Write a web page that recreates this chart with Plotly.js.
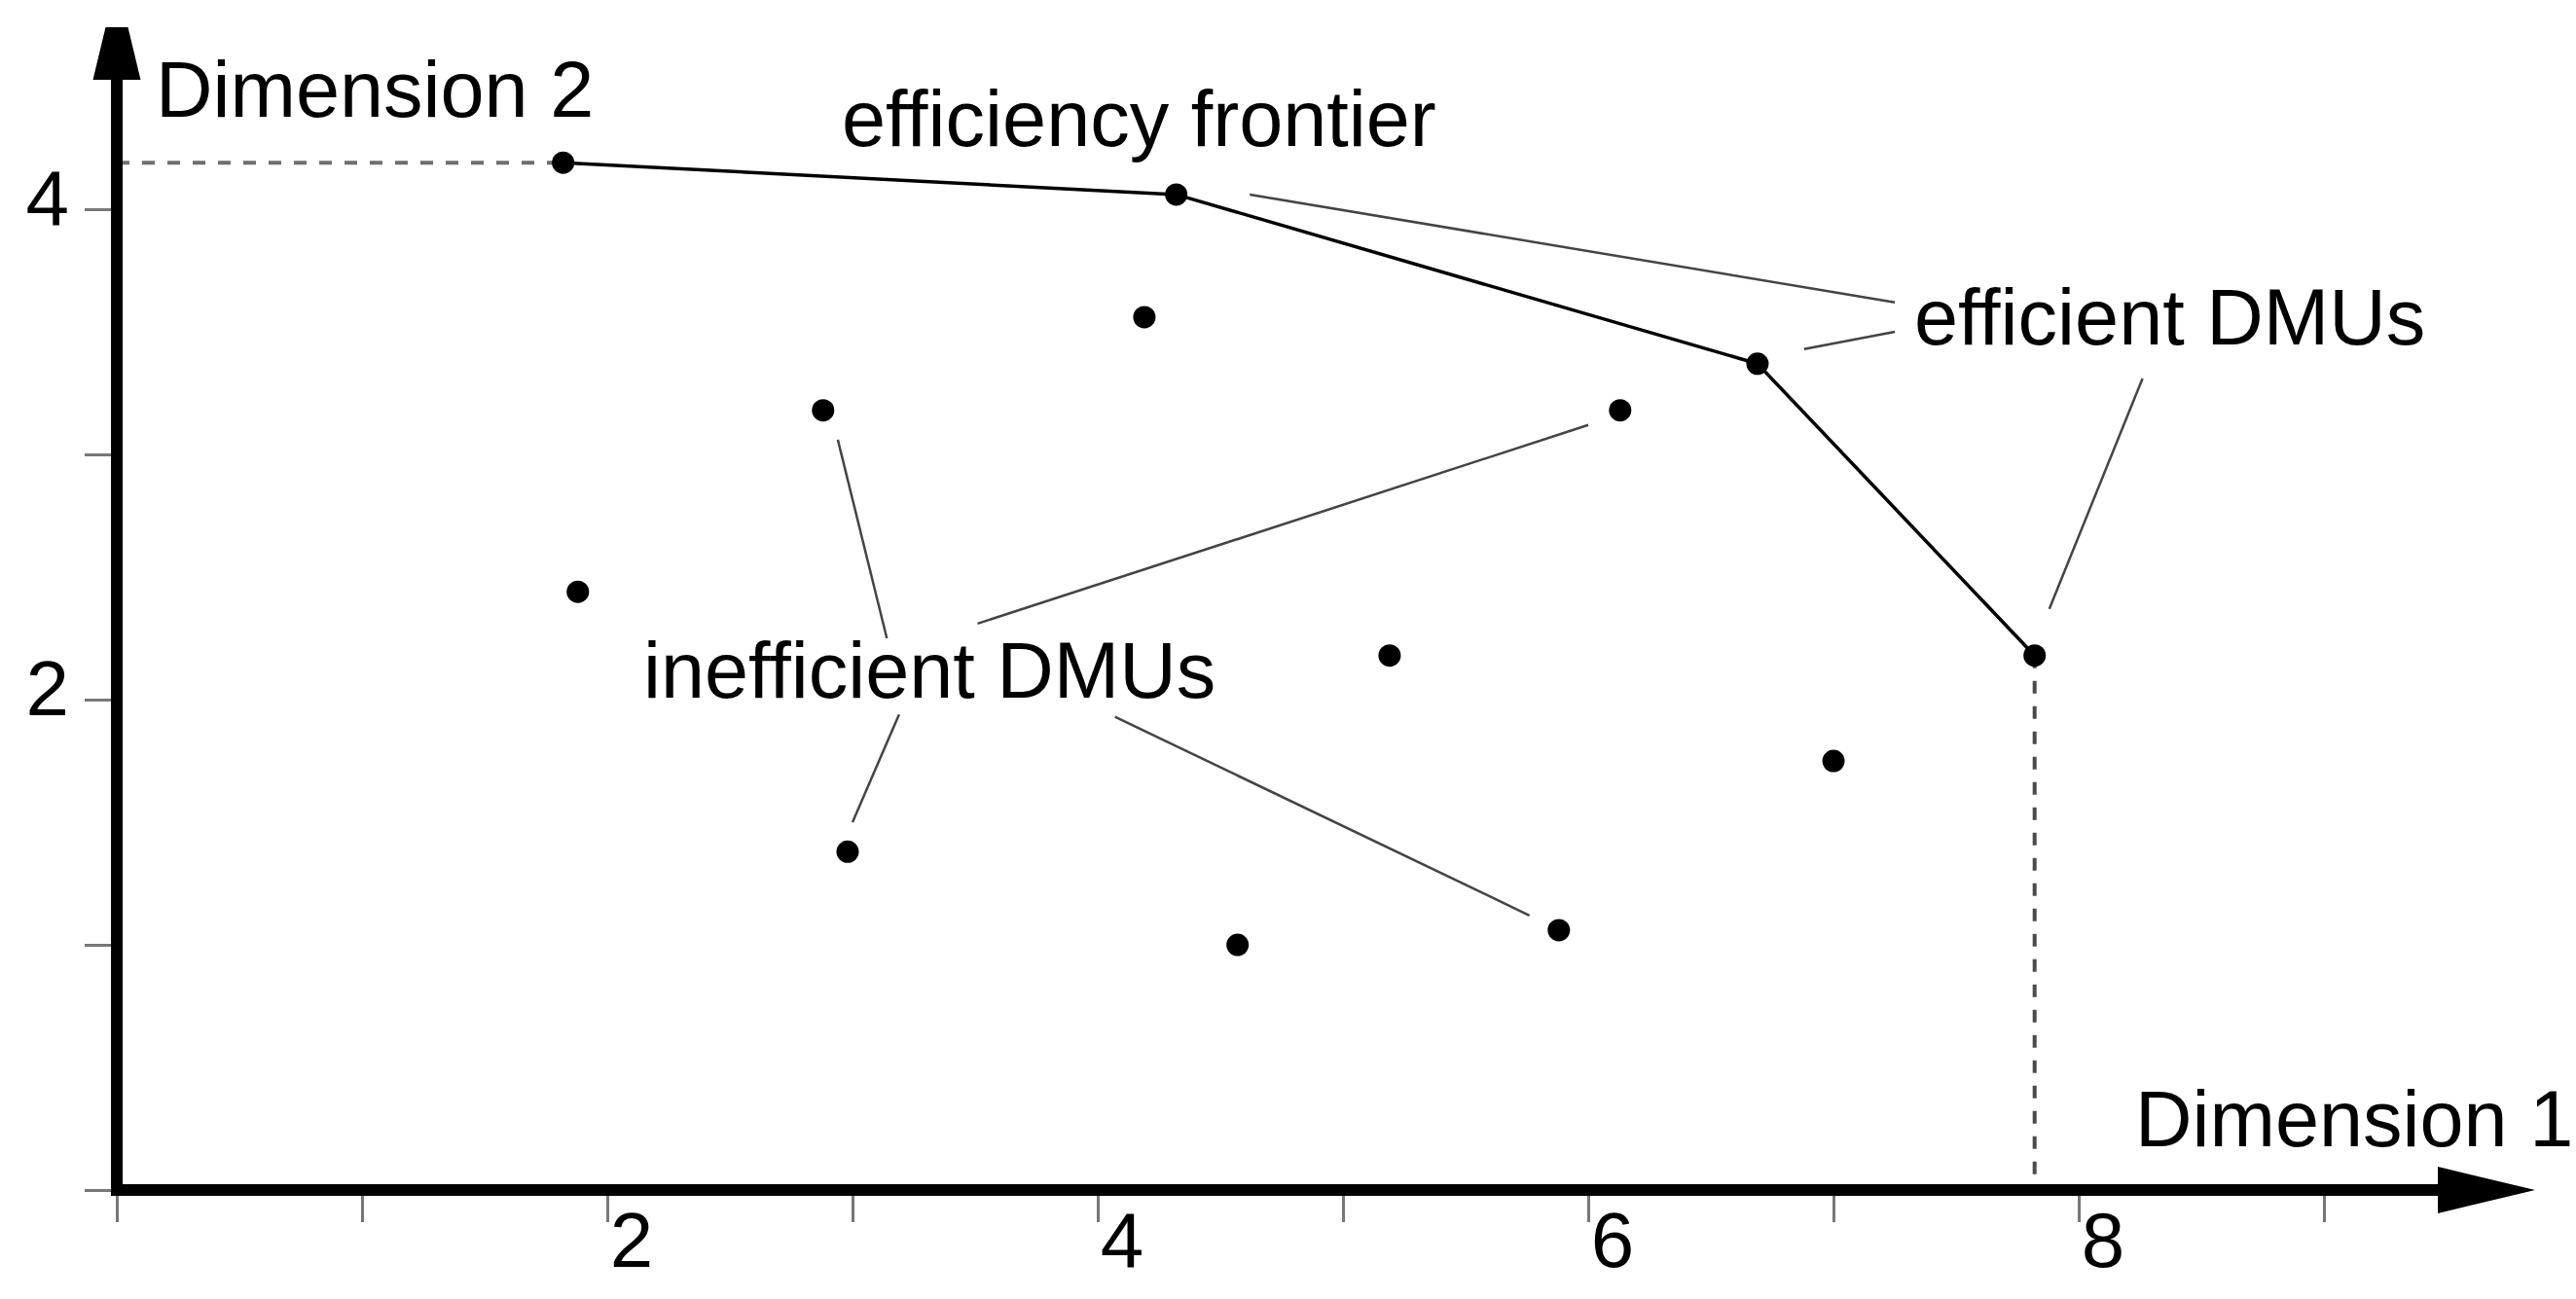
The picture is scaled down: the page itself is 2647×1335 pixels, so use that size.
<!DOCTYPE html>
<html>
<head>
<meta charset="utf-8">
<script src="https://cdn.plot.ly/plotly-3.0.1.min.js"></script>
<style>
  body { margin: 0; background: #fff; }
  #plotArea { width: 2647px; height: 1335px; }
</style>
</head>
<body>
<div id="plotArea"></div>
<script>
// efficient DMUs (they make up the frontier), left to right
var effX = [1.82, 4.32, 6.69, 7.82];
var effY = [4.19, 4.06, 3.37, 2.18];

// inefficient DMUs
var ineffX = [4.19, 2.88, 6.13, 1.88, 5.19, 7.00, 2.98, 4.57, 5.88];
var ineffY = [3.56, 3.18, 3.18, 2.44, 2.18, 1.75, 1.38, 1.00, 1.06];

// leader lines from the labels, [x0, y0, x1, y1]
var effLeaders = [[4.62, 4.06, 7.25, 3.62], [6.88, 3.43, 7.25, 3.50], [8.26, 3.31, 7.88, 2.37]];
var ineffLeaders = [[2.94, 3.06, 3.14, 2.25], [3.51, 2.31, 6.00, 3.12], [3.19, 1.94, 3.00, 1.50], [4.07, 1.93, 5.76, 1.12]];

// ticks
var xTicks = [0, 1, 2, 3, 4, 5, 6, 7, 8, 9];
var xTickText = ["", "", "2", "", "4", "", "6", "", "8", ""];
var yTicks = [0, 1, 2, 3, 4];
var yTickText = ["", "", "2", "", "4"];

var FONT = "Liberation Sans, Arial, sans-serif";

function segments(list) {
    var xs = [], ys = [];
    list.forEach(function (s) {
        xs.push(s[0], s[2], null);
        ys.push(s[1], s[3], null);
    });
    return {x: xs, y: ys};
}

var last = effX.length - 1;

// dashed guides to the axes
var guideH = {
    x: [0, effX[0]], y: [effY[0], effY[0]],
    mode: "lines", line: {color: "#6e6e6e", width: 4, dash: "13px,13px"},
    hoverinfo: "skip"
};
var guideV = {
    x: [effX[last], effX[last]], y: [effY[last], 0],
    mode: "lines", line: {color: "#4a4a4a", width: 4, dash: "13px,13px"},
    hoverinfo: "skip"
};

var frontier = {
    x: effX, y: effY,
    mode: "lines", line: {color: "#000", width: 3.5}
};

var eL = segments(effLeaders);
var iL = segments(ineffLeaders);
var leaders = {
    x: eL.x.concat(iL.x), y: eL.y.concat(iL.y),
    mode: "lines", line: {color: "#444", width: 2.5}
};

var dots = {
    x: effX.concat(ineffX), y: effY.concat(ineffY),
    mode: "markers", marker: {color: "#000", size: 23}
};

function label(text, x, y) {
    return {
        text: text, x: x, y: y, xref: "x", yref: "y",
        xanchor: "left", yanchor: "middle", showarrow: false,
        font: {family: FONT, size: 81, color: "#000"}
    };
}

var layout = {
    width: 2647, height: 1335,
    margin: {l: 120, r: 142, t: 82, b: 112},
    paper_bgcolor: "#fff", plot_bgcolor: "#fff",
    showlegend: false,
    xaxis: {
        range: [0, 9.464], showgrid: false, zeroline: false, showline: false,
        tickmode: "array", tickvals: xTicks, ticktext: xTickText,
        ticks: "outside", ticklen: 32, tickwidth: 3, tickcolor: "#777",
        ticklabelshift: 25, ticklabelstandoff: -50,
        tickfont: {family: FONT, size: 80, color: "#000"}
    },
    yaxis: {
        range: [0, 4.528], showgrid: false, zeroline: false, showline: false,
        tickmode: "array", tickvals: yTicks, ticktext: yTickText,
        ticks: "outside", ticklen: 32, tickwidth: 3, tickcolor: "#777",
        ticklabelshift: -12,
        tickfont: {family: FONT, size: 80, color: "#000"}
    },
    shapes: [
        // axis lines
        {type: "line", xref: "paper", yref: "paper", x0: 0, x1: 1, y0: 0, y1: 0, line: {color: "#000", width: 12}},
        {type: "line", xref: "paper", yref: "paper", x0: 0, x1: 0, y0: 0, y1: 1, line: {color: "#000", width: 12}},
        {type: "path", xref: "paper", yref: "paper", xsizemode: "pixel", ysizemode: "pixel", xanchor: 0, yanchor: 0,
         path: "M-6,-6L6,-6L6,6L-6,6Z", fillcolor: "#000", line: {width: 0}},
        // arrow heads
        {type: "path", xref: "paper", yref: "paper", xsizemode: "pixel", ysizemode: "pixel", xanchor: 1, yanchor: 0,
         path: "M0,-24L100,0L0,24Z", fillcolor: "#000", line: {width: 0}},
        {type: "path", xref: "paper", yref: "paper", xsizemode: "pixel", ysizemode: "pixel", xanchor: 0, yanchor: 1,
         path: "M-24.5,0L-11.5,54L11.5,54L24.5,0Z", fillcolor: "#000", line: {width: 0}}
    ],
    annotations: [
        label("Dimension 2", 0.15, 4.49),
        label("efficiency frontier", 2.95, 4.37),
        label("efficient DMUs", 7.32, 3.56),
        label("inefficient DMUs", 2.14, 2.12),
        label("Dimension 1", 8.22, 0.29)
    ]
};

Plotly.newPlot("plotArea", [guideH, guideV, frontier, leaders, dots], layout, {staticPlot: true, displayModeBar: false});
</script>
</body>
</html>
